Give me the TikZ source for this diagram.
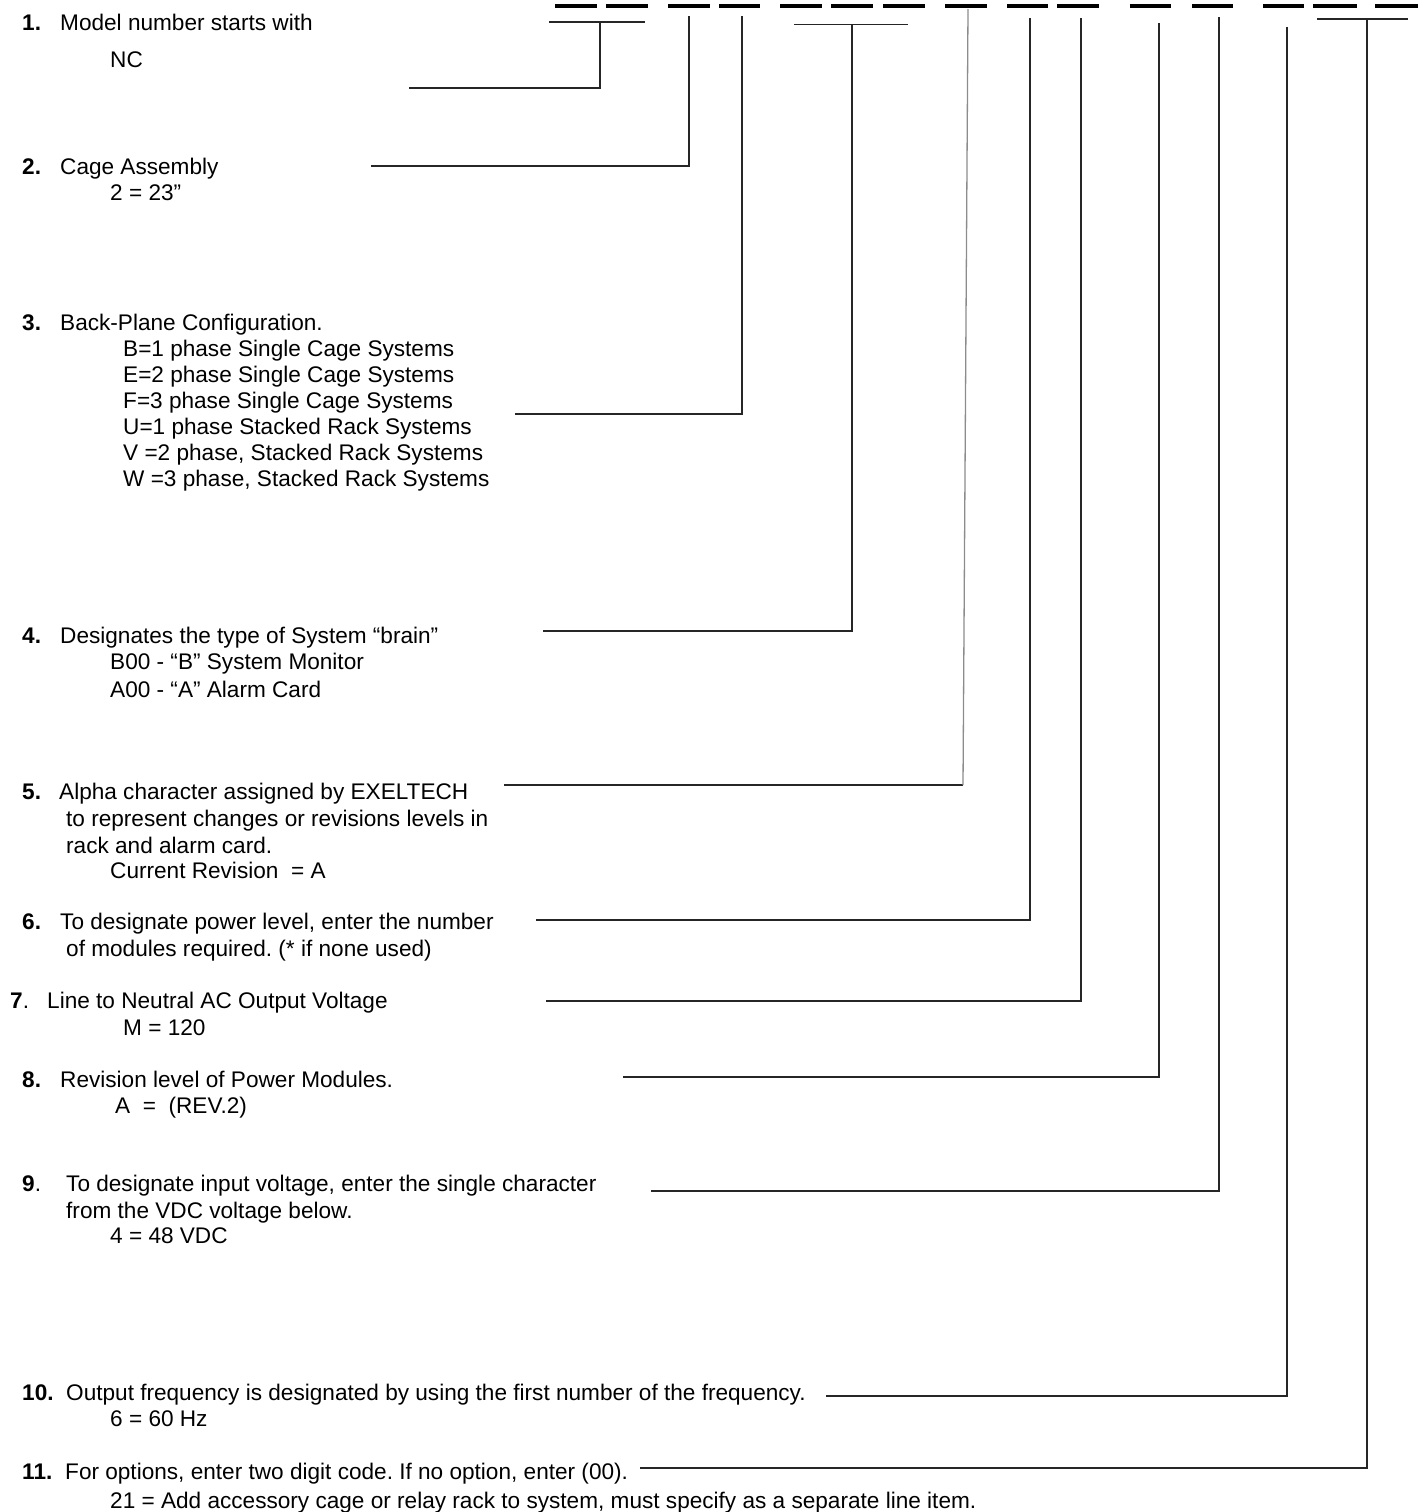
\documentclass[tikz,border=0pt]{standalone}
\usepackage{fontspec}
\setmainfont{Liberation Sans}
\frenchspacing
\begin{document}
\begin{tikzpicture}[x=1pt,y=-1pt,
  txt/.style={anchor=base west, inner sep=0pt, font=\fontsize{22.6}{26}\selectfont\frenchspacing},
  num/.style={anchor=base west, inner sep=0pt, font=\fontsize{22.6}{26}\selectfont\bfseries},
  conn/.style={draw=black!85, line width=1.3pt},
  lightconn/.style={draw=black!45, line width=1.3pt},
  blank/.style={draw=black, line width=4pt}]
\useasboundingbox (0,0) rectangle (1426,1512);

% blanks of the model number
\foreach \a/\b [count=\i] in {555/597,606/648,668/710,719/760,780/822,831/873,883/925,945/987,1007/1048,1057/1099,1130/1171,1192/1233,1263/1304,1313/1357,1375/1418}{
  \coordinate (dl\i) at (\a,6);
  \coordinate (dr\i) at (\b,6);
  \draw[blank] (dl\i) -- (dr\i);
}

% item 1
\node[num] (n1) at (22,31) {1.};
\node[txt] (t1) at (60,31) {Model number starts with};
\node[txt] (s1) at (110,67) {NC};
% item 2
\node[num] (n2) at (22,174) {2.};
\node[txt] (t2) at (60,174) {Cage Assembly};
\node[txt] (s2) at (110,200) {2 = 23”};
% item 3
\node[num] (n3) at (22,330) {3.};
\node[txt] (t3) at (60,330) {Back-Plane Configuration.};
\node[txt] (s3a) at (123,356) {B=1 phase Single Cage Systems};
\node[txt] (s3b) at (123,382) {E=2 phase Single Cage Systems};
\node[txt] (s3c) at (123,408) {F=3 phase Single Cage Systems};
\node[txt] (s3d) at (123,434) {U=1 phase Stacked Rack Systems};
\node[txt] (s3e) at (123,460) {V =2 phase, Stacked Rack Systems};
\node[txt] (s3f) at (123,486) {W =3 phase, Stacked Rack Systems};
% item 4
\node[num] (n4) at (22,643) {4.};
\node[txt] (t4) at (60,643) {Designates the type of System “brain”};
\node[txt] (s4a) at (110,669) {B00 - “B” System Monitor};
\node[txt] (s4b) at (110,697) {A00 - “A” Alarm Card};
% item 5
\node[num] (n5) at (22,799) {5.};
\node[txt] (t5) at (59,799) {Alpha character assigned by EXELTECH};
\node[txt] (s5a) at (66,826) {to represent changes or revisions levels in};
\node[txt] (s5b) at (66,853) {rack and alarm card.};
\node[txt] (s5c) at (110,878) {Current Revision\ \ = A};
% item 6
\node[num] (n6) at (22,929) {6.};
\node[txt] (t6) at (60,929) {To designate power level, enter the number};
\node[txt] (s6) at (66,956) {of modules required. (* if none used)};
% item 7
\node[num] (n7) at (10,1008) {7\mdseries.};
\node[txt] (t7) at (47,1008) {Line to Neutral AC Output Voltage};
\node[txt] (s7) at (123,1035) {M = 120};
% item 8
\node[num] (n8) at (22,1087) {8.};
\node[txt] (t8) at (60,1087) {Revision level of Power Modules.};
\node[txt] (s8) at (115,1113) {A\ \ =\ \ (REV.2)};
% item 9
\node[num] (n9) at (22,1191) {9\mdseries.};
\node[txt] (t9) at (66,1191) {To designate input voltage, enter the single character};
\node[txt] (s9a) at (66,1218) {from the VDC voltage below.};
\node[txt] (s9b) at (110,1243) {4 = 48 VDC};
% item 10
\node[num] (n10) at (22,1400) {10.};
\node[txt] (t10) at (66,1400) {Output frequency is designated by using the first number of the frequency.};
\node[txt] (s10) at (110,1426) {6 = 60 Hz};
% item 11
\node[num] (n11) at (22,1479) {11.};
\node[txt] (t11) at (65,1479) {For options, enter two digit code. If no option, enter (00).};
\node[txt] (s11) at (110,1508) {21 = Add accessory cage or relay rack to system, must specify as a separate line item.};

% connectors
\coordinate (b1l) at (549,22); \coordinate (b1r) at (645,22);
\coordinate (j1) at (600,22); \coordinate (e1) at (409,88);
\draw[conn] (b1l) -- (b1r);
\draw[conn] (e1) -| (j1);

\coordinate (j2) at (689,16); \coordinate (e2) at (371,166);
\draw[conn] (e2) -| (j2);

\coordinate (j3) at (742,16); \coordinate (e3) at (515,414);
\draw[conn] (e3) -| (j3);

\coordinate (b4l) at (794,24.5); \coordinate (b4r) at (908,24.5);
\coordinate (j4) at (852,24.5); \coordinate (e4) at (543,631);
\draw[conn] (b4l) -- (b4r);
\draw[conn] (e4) -| (j4);

\coordinate (j5) at (968,9); \coordinate (c5) at (963,785); \coordinate (e5) at (504,785);
\draw[conn] (e5) -- (c5);
\draw[lightconn] (c5) -- (j5);

\coordinate (j6) at (1030,18); \coordinate (e6) at (536,920);
\draw[conn] (e6) -| (j6);

\coordinate (j7) at (1081,18); \coordinate (e7) at (546,1001);
\draw[conn] (e7) -| (j7);

\coordinate (j8) at (1159,23); \coordinate (e8) at (623,1077);
\draw[conn] (e8) -| (j8);

\coordinate (j9) at (1219,17); \coordinate (e9) at (651,1191);
\draw[conn] (e9) -| (j9);

\coordinate (j10) at (1287,27); \coordinate (e10) at (826,1396);
\draw[conn] (e10) -| (j10);

\coordinate (b11l) at (1317,19); \coordinate (b11r) at (1408,19);
\coordinate (j11) at (1367,19); \coordinate (e11) at (640,1468);
\draw[conn] (b11l) -- (b11r);
\draw[conn] (e11) -| (j11);
\end{tikzpicture}
\end{document}
